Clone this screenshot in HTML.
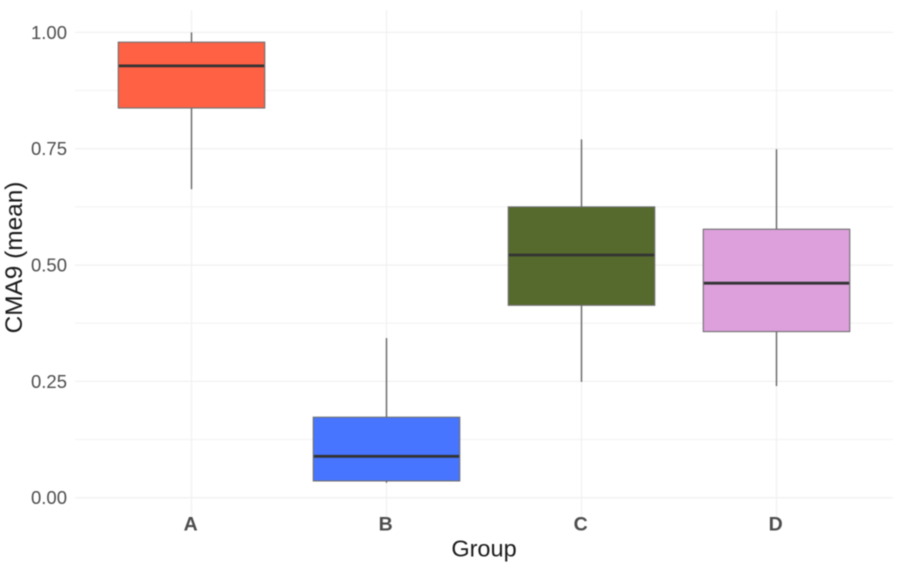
<!DOCTYPE html>
<html>
<head>
<meta charset="utf-8">
<style>
html,body{margin:0;padding:0;background:#fff;width:898px;height:567px;overflow:hidden}
svg{display:block;font-family:"Liberation Sans",sans-serif;filter:blur(0.4px)}
</style>
</head>
<body>
<svg id="chart" width="898" height="567" viewBox="0 0 898 567" xmlns="http://www.w3.org/2000/svg">
  <g id="grid"></g>
  <g id="boxes"></g>
  <g id="yticks"></g>
  <g id="xticks"></g>
  <text x="484" y="556.5" text-anchor="middle" font-size="23.5" fill="#1a1a1a">Group</text>
  <text transform="translate(22,257.5) rotate(-90)" text-anchor="middle" font-size="24.4" fill="#1a1a1a">CMA9 (mean)</text>
</svg>
<script>
const categories = ['A', 'B', 'C', 'D'];
const whiskerLow = [0.663, 0.032, 0.249, 0.240];
const quartile1 = [0.8375, 0.036, 0.4135, 0.357];
const medians = [0.928, 0.089, 0.5216, 0.461];
const quartile3 = [0.979, 0.173, 0.625, 0.577];
const whiskerHigh = [1.0, 0.343, 0.770, 0.749];
const boxColors = ['#FF6145', '#4775FF', '#566A2E', '#DDA0DD'];
const yTickValues = [0, 0.25, 0.5, 0.75, 1];
const yTickLabels = ['0.00', '0.25', '0.50', '0.75', '1.00'];

const SVG_NS = 'http://www.w3.org/2000/svg';
const yScale = v => 497.7 - v * 465.3;
const xScale = i => 191.5 + i * 195;
const BOX_WIDTH = 146.5;
const PLOT_LEFT = 75, PLOT_RIGHT = 893, PLOT_TOP = 10, PLOT_BOTTOM = 519;

function make(parent, tag, attrs) {
  const el = document.createElementNS(SVG_NS, tag);
  for (const k in attrs) el.setAttribute(k, attrs[k]);
  parent.appendChild(el);
  return el;
}

const grid = document.getElementById('grid');
yTickValues.forEach((v, i) => {
  const major = make(grid, 'line', {x1: PLOT_LEFT, x2: PLOT_RIGHT, y1: yScale(v), y2: yScale(v), stroke: '#f1f1f1', 'stroke-width': 1.3});
  
  
  if (i < yTickValues.length - 1) {
    const mid = (v + yTickValues[i + 1]) / 2;
    const minor = make(grid, 'line', {x1: PLOT_LEFT, x2: PLOT_RIGHT, y1: yScale(mid), y2: yScale(mid), stroke: '#f3f3f3', 'stroke-width': 1.1});
    
    
  }
});
categories.forEach((c, i) => {
  const gl = make(grid, 'line', {x1: xScale(i), x2: xScale(i), y1: PLOT_TOP, y2: PLOT_BOTTOM, stroke: '#f1f1f1', 'stroke-width': 1.3});
  
  
});

const boxes = document.getElementById('boxes');
categories.forEach((c, i) => {
  const x = xScale(i);
  const g = make(boxes, 'g', {});
  
  

  const upper = make(g, 'line', {x1: x, x2: x, y1: yScale(whiskerHigh[i]), y2: yScale(quartile3[i]), stroke: '#666666', 'stroke-width': 1.4});
  
  

  const lower = make(g, 'line', {x1: x, x2: x, y1: yScale(quartile1[i]), y2: yScale(whiskerLow[i]), stroke: '#666666', 'stroke-width': 1.4});
  
  

  const rect = make(g, 'rect', {
    x: x - BOX_WIDTH / 2,
    y: yScale(quartile3[i]),
    width: BOX_WIDTH,
    height: yScale(quartile1[i]) - yScale(quartile3[i]),
    fill: boxColors[i],
    stroke: '#6f6f6f',
    'stroke-width': 1.1
  });
  
  

  const med = make(g, 'line', {x1: x - BOX_WIDTH / 2 + 0.6, x2: x + BOX_WIDTH / 2 - 0.6, y1: yScale(medians[i]), y2: yScale(medians[i]), stroke: '#333333', 'stroke-width': 2.8});
  
  
});

const yticks = document.getElementById('yticks');
yTickValues.forEach((v, i) => {
  const t = make(yticks, 'text', {x: 67, y: yScale(v) + 6.5, 'text-anchor': 'end', 'font-size': 18.5, fill: '#4d4d4d'});
  
  
  t.textContent = yTickLabels[i];
});

const xticks = document.getElementById('xticks');
categories.forEach((c, i) => {
  const t = make(xticks, 'text', {x: xScale(i) - 0.8, y: 530.5, 'text-anchor': 'middle', 'font-size': 19.5, 'font-weight': 'bold', fill: '#4d4d4d'});
  
  
  t.textContent = c;
});
</script>
</body>
</html>
